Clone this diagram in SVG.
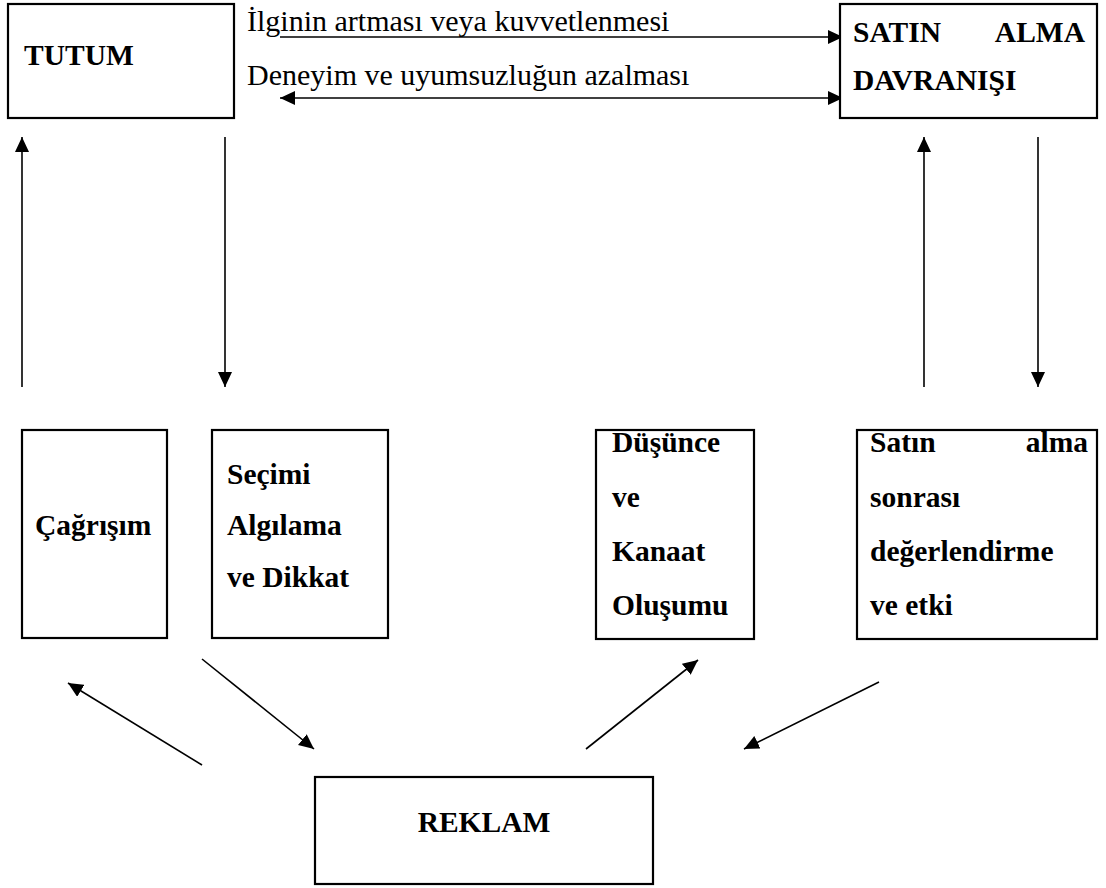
<svg xmlns="http://www.w3.org/2000/svg" width="1106" height="888" viewBox="0 0 1106 888">
<defs>
<style>
.box{fill:#fff;stroke:#000;stroke-width:2.2}
.b{font-family:"Liberation Serif","Times New Roman",serif;font-weight:bold;font-size:29.5px;fill:#000}
.r{font-family:"Liberation Serif","Times New Roman",serif;font-size:30px;fill:#000}
.ln{stroke:#000;stroke-width:1.6;fill:none}
</style>
<marker id="ah" markerUnits="userSpaceOnUse" markerWidth="15" markerHeight="14" refX="15" refY="7" orient="auto-start-reverse">
<path d="M0,0 L15,7 L0,14 z" fill="#000"/>
</marker>
</defs>
<rect width="1106" height="888" fill="#fff"/>

<g id="connectors">
<line class="ln" x1="280" y1="37" x2="843" y2="37" marker-end="url(#ah)"/>
<line class="ln" x1="280" y1="98" x2="843" y2="98" marker-start="url(#ah)" marker-end="url(#ah)"/>
<line class="ln" x1="22" y1="387" x2="22" y2="137" marker-end="url(#ah)"/>
<line class="ln" x1="225" y1="137" x2="225" y2="387" marker-end="url(#ah)"/>
<line class="ln" x1="924" y1="387" x2="924" y2="137" marker-end="url(#ah)"/>
<line class="ln" x1="1038" y1="137" x2="1038" y2="387" marker-end="url(#ah)"/>
<line class="ln" x1="202" y1="765" x2="68" y2="683" marker-end="url(#ah)"/>
<line class="ln" x1="202" y1="659" x2="314" y2="749" marker-end="url(#ah)"/>
<line class="ln" x1="586" y1="749" x2="698" y2="660" marker-end="url(#ah)"/>
<line class="ln" x1="879" y1="682" x2="744" y2="749" marker-end="url(#ah)"/>
<text class="r" x="247" y="31">İlginin artması veya kuvvetlenmesi</text>
<text class="r" x="247" y="85">Deneyim ve uyumsuzluğun azalması</text>
</g>

<g id="tutum">
<rect class="box" x="8" y="4" width="226" height="114"/>
<text class="b" x="24" y="65">TUTUM</text>
</g>

<g id="satin-alma-davranisi">
<rect class="box" x="840" y="4" width="257" height="114"/>
<text class="b" x="853" y="42">SATIN</text>
<text class="b" x="1085" y="42" text-anchor="end">ALMA</text>
<text class="b" x="853" y="90">DAVRANIŞI</text>
</g>

<g id="cagrisim">
<rect class="box" x="22" y="430" width="145" height="208"/>
<text class="b" x="35" y="535">Çağrışım</text>
</g>

<g id="secimi">
<rect class="box" x="212" y="430" width="176" height="208"/>
<text class="b" x="227" y="484">Seçimi</text>
<text class="b" x="227" y="535">Algılama</text>
<text class="b" x="227" y="587">ve Dikkat</text>
</g>

<g id="dusunce">
<rect class="box" x="596" y="430" width="158" height="209"/>
<text class="b" x="612" y="452">Düşünce</text>
<text class="b" x="612" y="507">ve</text>
<text class="b" x="612" y="561">Kanaat</text>
<text class="b" x="612" y="615">Oluşumu</text>
</g>

<g id="satin-alma-sonrasi">
<rect class="box" x="857" y="430" width="240" height="209"/>
<text class="b" x="870" y="452">Satın</text>
<text class="b" x="1088" y="452" text-anchor="end">alma</text>
<text class="b" x="870" y="507">sonrası</text>
<text class="b" x="870" y="561">değerlendirme</text>
<text class="b" x="870" y="615">ve etki</text>
</g>

<g id="reklam">
<rect class="box" x="315" y="777" width="338" height="107"/>
<text class="b" x="484" y="832" text-anchor="middle">REKLAM</text>
</g>
</svg>
